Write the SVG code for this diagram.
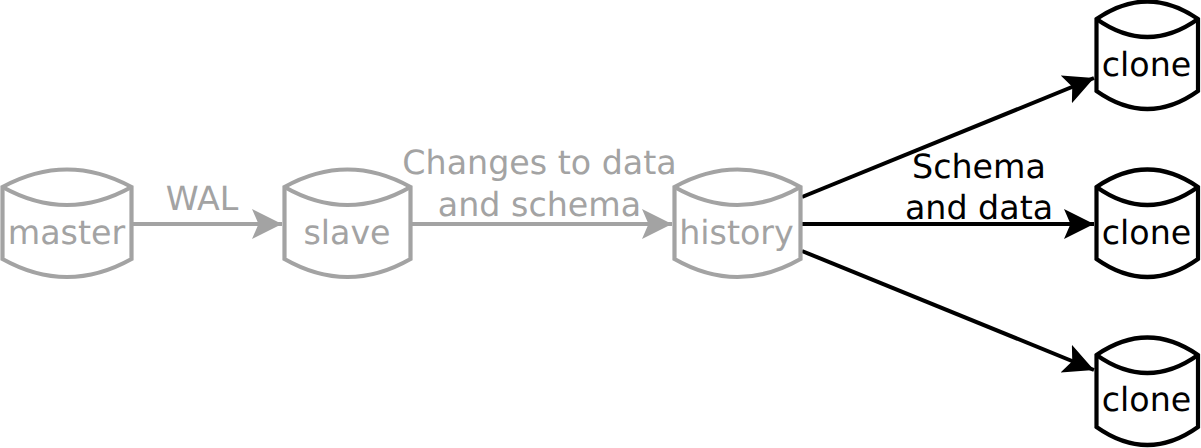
<svg xmlns="http://www.w3.org/2000/svg" width="1201" height="448" viewBox="0 0 1201 448">
<style>
text{font-family:"DejaVu Sans",sans-serif;font-size:33.300px;text-anchor:middle;text-rendering:geometricPrecision}
.g text,text.g{fill:#a3a3a3}
.k text,text.k{fill:#000}
.c{fill:#fff;stroke-width:4.200;stroke-linejoin:miter}
.o{fill:none;stroke-width:4.200}
.g .c,.g .o{stroke:#a3a3a3}
.k .c,.k .o{stroke:#000}
.l{fill:none;stroke-width:4}
</style>
<defs>
<marker id="ag" markerUnits="userSpaceOnUse" markerWidth="32" markerHeight="32" refX="30" refY="15" orient="auto"><path d="M0 0L30 15L0 30L6.500 15Z" fill="#a3a3a3"/></marker>
<marker id="ak" markerUnits="userSpaceOnUse" markerWidth="32" markerHeight="32" refX="30" refY="15" orient="auto"><path d="M0 0L30 15L0 30L6.500 15Z" fill="#000"/></marker>
</defs>
<g id="connectors">
<path class="l" stroke="#a3a3a3" marker-end="url(#ag)" d="M132 224H282"/>
<path class="l" stroke="#a3a3a3" marker-end="url(#ag)" d="M411 224H672"/>
<path class="l" stroke="#000" marker-end="url(#ak)" d="M802 197L1094 78"/>
<path class="l" stroke="#000" marker-end="url(#ak)" d="M802 224H1094"/>
<path class="l" stroke="#000" marker-end="url(#ak)" d="M802 251L1094 370"/>
</g>
<g id="master" class="g"><path class="c" d="M2.500 187Q67 152 131.500 187V259Q67 295 2.500 259Z"/><path class="o" d="M2.500 187Q67 223 131.500 187"/><text x="66.500" y="243.500">master</text></g>
<g id="slave" class="g"><path class="c" d="M284.500 187Q347.500 152 410.500 187V259Q347.500 295 284.500 259Z"/><path class="o" d="M284.500 187Q347.500 223 410.500 187"/><text x="347" y="243.500">slave</text></g>
<g id="history" class="g"><path class="c" d="M674.500 187Q737.500 152 800.500 187V259Q737.500 295 674.500 259Z"/><path class="o" d="M674.500 187Q737.500 223 800.500 187"/><text x="736.500" y="243.500">history</text></g>
<g id="clone1" class="k"><path class="c" d="M1096.500 19Q1147.500 -16 1198 19V91Q1147.500 127 1096.500 91Z"/><path class="o" d="M1096.500 19Q1147.500 55 1198 19"/><text x="1146.500" y="75.500">clone</text></g>
<g id="clone2" class="k"><path class="c" d="M1096.500 187Q1147.500 152 1198 187V259Q1147.500 295 1096.500 259Z"/><path class="o" d="M1096.500 187Q1147.500 223 1198 187"/><text x="1146.500" y="243.500">clone</text></g>
<g id="clone3" class="k"><path class="c" d="M1096.500 355Q1147.500 320 1198 355V427Q1147.500 463 1096.500 427Z"/><path class="o" d="M1096.500 355Q1147.500 391 1198 355"/><text x="1146.500" y="410.500">clone</text></g>
<text class="g" x="202" y="209.500">WAL</text>
<text class="g" x="539.500" y="173.500">Changes to data</text>
<text class="g" x="539.500" y="215.500">and schema</text>
<text class="k" x="979" y="177.500">Schema</text>
<text class="k" x="979" y="218.500">and data</text>
</svg>
